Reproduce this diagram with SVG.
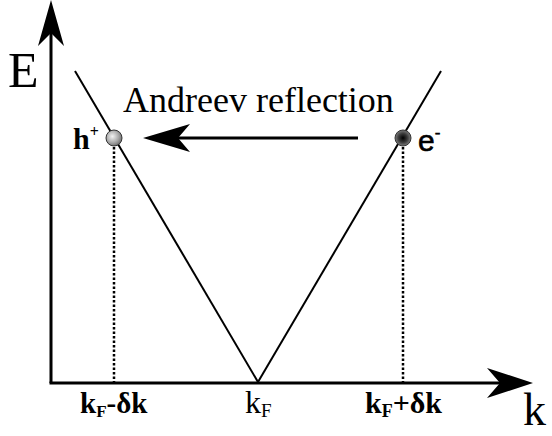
<svg xmlns="http://www.w3.org/2000/svg" width="552" height="436" viewBox="0 0 552 436">
<style>
.ax{stroke:#000;stroke-width:3;fill:none}
.ln{stroke:#000;stroke-width:2;fill:none}
.dot{stroke:#000;stroke-width:2.5;stroke-dasharray:2.5 2;fill:none}
.serif{font-family:"Liberation Serif","Times New Roman",serif;fill:#000}
.sans{font-family:"Liberation Sans",Arial,sans-serif;fill:#000}
.b{font-weight:bold}
</style>
<defs>
<radialGradient id="gh" cx="0.4" cy="0.4" r="0.65">
<stop offset="0" stop-color="#f2f2f2"/>
<stop offset="0.6" stop-color="#a8a8a8"/>
<stop offset="1" stop-color="#6a6a6a"/>
</radialGradient>
<radialGradient id="ge" cx="0.5" cy="0.5" r="0.55">
<stop offset="0" stop-color="#000"/>
<stop offset="0.5" stop-color="#3a3a3a"/>
<stop offset="1" stop-color="#8a8a8a"/>
</radialGradient>
</defs>
<g id="axes">
<line class="ax" x1="51" y1="30" x2="51" y2="383"/>
<polygon points="51,0 38,46 51,33 64,46" fill="#000"/>
<line class="ax" x1="49.5" y1="383" x2="505" y2="383"/>
<polygon points="533,383 487,368 500,383 487,398" fill="#000"/>
<text class="serif" x="8" y="87" font-size="50">E</text>
<text class="serif" x="523" y="425" font-size="46">k</text>
</g>
<g id="dispersion">
<line class="ln" x1="75" y1="71" x2="258" y2="382"/>
<line class="ln" x1="258" y1="382" x2="441" y2="71"/>
</g>
<g id="dotted">
<line class="dot" x1="114" y1="147" x2="114" y2="382"/>
<line class="dot" x1="403" y1="147" x2="403" y2="382"/>
</g>
<g id="hole">
<circle cx="114" cy="138" r="8" fill="url(#gh)" stroke="#333" stroke-width="1"/>
<text class="serif b" x="73" y="149" font-size="30">h<tspan font-size="16" dy="-12">+</tspan></text>
</g>
<g id="electron">
<circle cx="403" cy="138" r="8" fill="url(#ge)" stroke="#333" stroke-width="1"/>
<text class="sans" x="418" y="151" font-size="30" stroke="#000" stroke-width="0.6">e<tspan font-size="17" dy="-13">-</tspan></text>
</g>
<g id="label">
<text class="serif" x="123" y="112" font-size="36">Andreev reflection</text>
</g>
<g id="ticks">
<text class="serif b" x="80" y="413" font-size="29">k<tspan font-size="17" dy="4">F</tspan><tspan dy="-4">-δk</tspan></text>
<text class="serif" x="245" y="413" font-size="32">k<tspan font-size="19" dy="4">F</tspan></text>
<text class="serif b" x="365" y="413" font-size="30">k<tspan font-size="18" dy="4">F</tspan><tspan dy="-4">+δk</tspan></text>
</g>
<g id="connectors">
<line x1="358" y1="138" x2="175" y2="138" stroke="#000" stroke-width="3"/>
<polygon points="143,138 190,124 178,138 190,152" fill="#000"/>
</g>
</svg>
